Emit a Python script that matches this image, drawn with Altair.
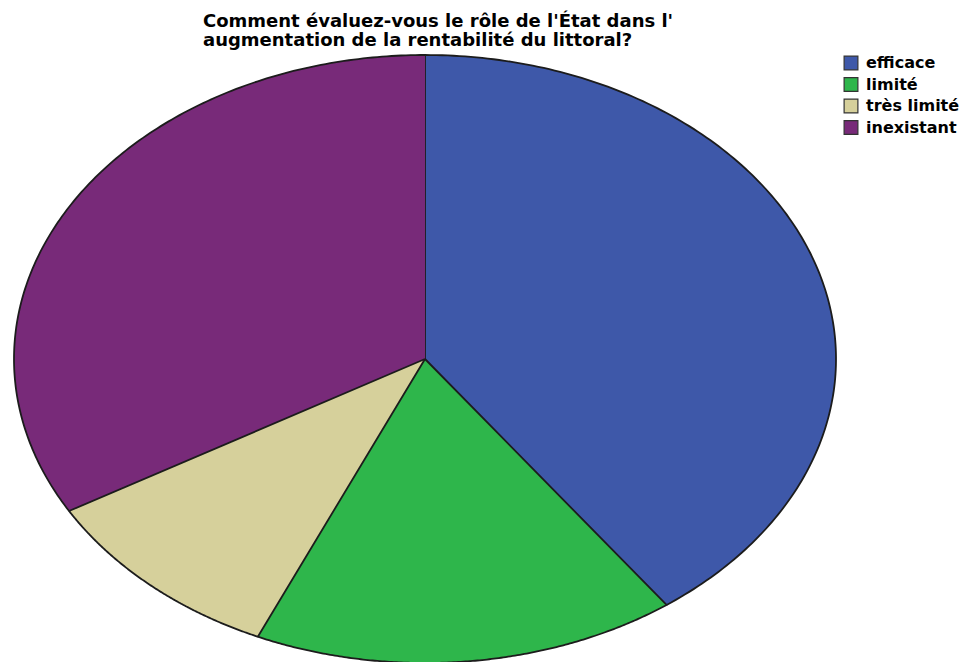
import altair as alt
import pandas as pd

categories = ["efficace", "limité", "très limité", "inexistant"]
counts = [12, 5, 3, 10]
colors = ["#3e58a9", "#2eb64b", "#d6d09b", "#782a79"]
title_lines = ["Comment évaluez-vous le rôle de l'État dans l'",
               "augmentation de la rentabilité du littoral?"]

df = pd.DataFrame({"category": categories, "count": counts, "order": list(range(len(categories)))})

N = 180

chart = (
    alt.Chart(df)
    .transform_joinaggregate(total="sum(count)")
    .transform_window(cum="sum(count)", sort=[alt.SortField("order")], frame=[None, 0])
    .transform_calculate(
        start="(datum.cum - datum.count) / datum.total",
        end="datum.cum / datum.total",
        steps=f"sequence(-1, {N + 1})",
    )
    .transform_flatten(["steps"])
    .transform_calculate(
        theta=f"2 * PI * (datum.start + (datum.end - datum.start) * datum.steps / {N})",
    )
    .transform_calculate(
        px="datum.steps < 0 ? 0 : sin(datum.theta)",
        py="datum.steps < 0 ? 0 : cos(datum.theta)",
    )
    .mark_line(stroke="#1c1c1c", strokeWidth=1.8, strokeJoin="round", interpolate="linear")
    .encode(
        x=alt.X("px:Q", scale=alt.Scale(domain=[-1, 1], nice=False, zero=False), axis=None),
        y=alt.Y("py:Q", scale=alt.Scale(domain=[-1, 1], nice=False, zero=False), axis=None),
        fill=alt.Fill(
            "category:N",
            scale=alt.Scale(domain=categories, range=colors),
            legend=alt.Legend(
                title=None,
                orient="none",
                legendX=829,
                legendY=0,
                symbolType="square",
                symbolSize=190,
                symbolStrokeColor="#333333",
                symbolStrokeWidth=1.2,
                symbolOpacity=1,
                labelFont="DejaVu Sans",
                labelFontWeight="bold",
                labelFontSize=16,
                labelColor="black",
                rowPadding=1.5,
                labelOffset=7,
                labelLimit=200,
            ),
        ),
        order=alt.Order("steps:Q"),
        detail="category:N",
    )
    .properties(
        width=822,
        height=608,
        title=alt.Title(
            title_lines,
            anchor="start",
            frame="group",
            dx=189,
            font="DejaVu Sans",
            fontSize=18,
            fontWeight="bold",
            color="black",
            lineHeight=19,
            offset=4,
            limit=700,
        ),
    )
    .configure_view(stroke=None)
)

chart.save("out.html", embed_options={"renderer": "svg", "actions": False})
